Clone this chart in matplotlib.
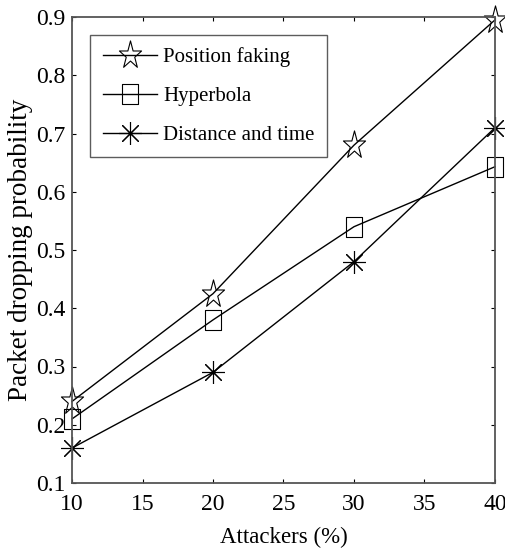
import matplotlib
matplotlib.use("Agg")
import numpy as np
import matplotlib.pyplot as plt
from matplotlib.path import Path

attackers = [10, 20, 30, 40]
position_faking = [0.24, 0.425, 0.68, 0.895]
hyperbola = [0.21, 0.38, 0.54, 0.643]
distance_time = [0.16, 0.29, 0.48, 0.71]
x_ticks = [10, 15, 20, 25, 30, 35, 40]
y_ticks = [0.1, 0.2, 0.3, 0.4, 0.5, 0.6, 0.7, 0.8, 0.9]

plt.rcParams['font.family'] = ['Liberation Serif', 'DejaVu Serif']

# horizontally narrowed marker shapes (the reference image is squeezed)
ang = np.pi / 2 + np.arange(10) * np.pi / 5
rad = np.where(np.arange(10) % 2 == 0, 1.0, 0.382)
star_v = np.column_stack([0.8 * rad * np.cos(ang), rad * np.sin(ang)])
star_v = np.vstack([star_v, star_v[:1]])
star_marker = Path(star_v, closed=True)
rect_marker = Path([(-0.75, -1), (0.75, -1), (0.75, 1), (-0.75, 1), (-0.75, -1)], closed=True)

fig = plt.figure(figsize=(5.06, 5.48), dpi=100)
ax = fig.add_axes([72/506, 65/548, 423/506, 466/548])

ax.plot(attackers, position_faking, color='black', lw=1, marker=star_marker, ms=21,
        mfc='none', mec='black', mew=0.8, label='Position faking', clip_on=False)
ax.plot(attackers, hyperbola, color='black', lw=1, marker=rect_marker, ms=14.5,
        mfc='none', mec='black', mew=0.8, label='Hyperbola', clip_on=False)
ax.plot(attackers, distance_time, color='black', lw=1, marker=(8, 2, 0), ms=16.5,
        mfc='none', mec='black', mew=0.8, label='Distance and time', clip_on=False)

ax.set_xlim(10, 40)
ax.set_ylim(0.1, 0.9)
ax.set_xticks(x_ticks)
ax.set_yticks(y_ticks)
ax.set_xticklabels([str(v) for v in x_ticks])
ax.set_yticklabels([f"{v:.1f}" for v in y_ticks])
ax.tick_params(direction='in', length=3, width=0.8, labelsize=17, top=True, right=True)
ax.tick_params(axis='x', pad=8)
ax.tick_params(axis='y', pad=5)
for s in ax.spines.values():
    s.set_color('#555555')
    s.set_linewidth(1.3)

ax.set_xlabel('Attackers (%)', fontsize=16.5)
ax.xaxis.set_label_coords(0.5, (483 - 537) / 466)
ax.xaxis.label.set_va('center')
ax.set_ylabel('Packet dropping probability', fontsize=19.5)
ax.yaxis.set_label_coords((20 - 72) / 423, 0.5)
ax.yaxis.label.set_va('center')

leg = ax.legend(loc='upper left', bbox_to_anchor=(18/423, (483 - 35) / 466), fontsize=15,
                frameon=True, fancybox=False, edgecolor='#333333',
                handlelength=2.6, handletextpad=0.3, labelspacing=0.92,
                borderpad=0.6, borderaxespad=0)
leg.get_frame().set_linewidth(1.0)

fig.savefig('out.png', dpi=100)
